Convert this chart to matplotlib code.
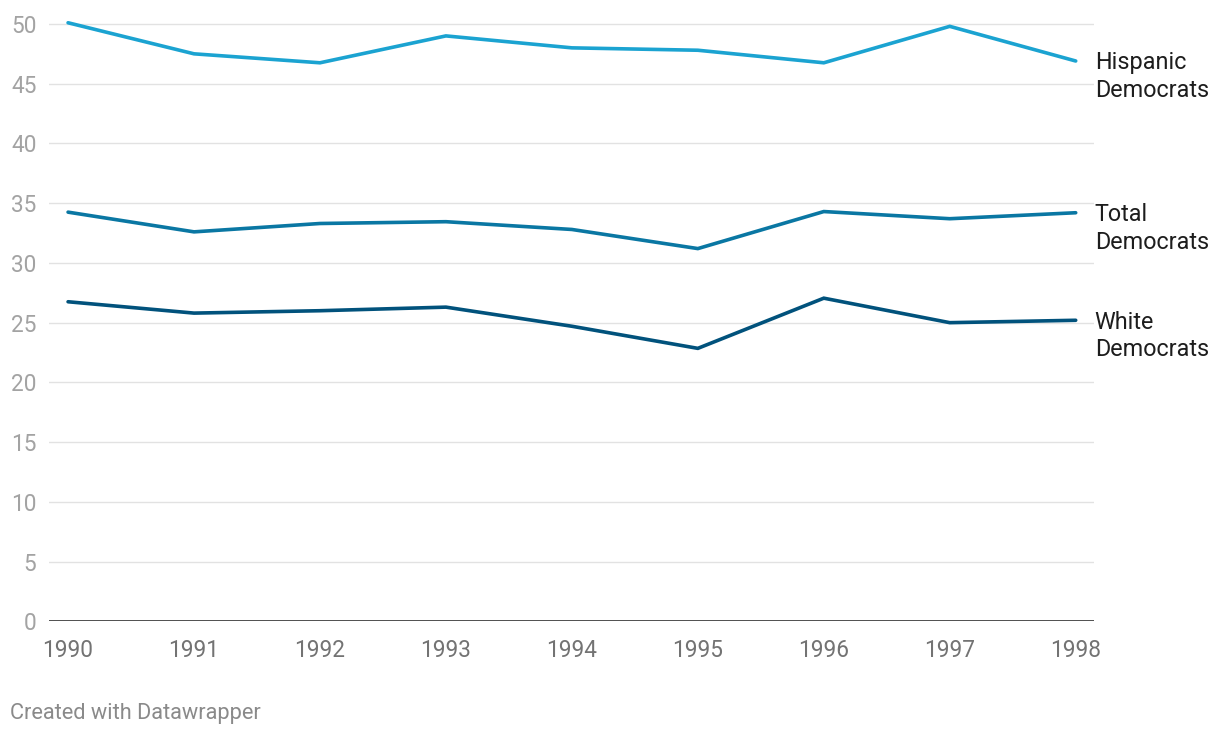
import numpy as np
import matplotlib
matplotlib.use("Agg")
import matplotlib.pyplot as plt

plt.rcParams["font.family"] = ["Roboto", "DejaVu Sans"]

years = [1990, 1991, 1992, 1993, 1994, 1995, 1996, 1997, 1998]
hispanic = [50.1, 47.5, 46.75, 49.0, 48.0, 47.8, 46.75, 49.8, 46.9]
total = [34.25, 32.6, 33.3, 33.45, 32.8, 31.2, 34.3, 33.7, 34.2]
white = [26.75, 25.8, 26.0, 26.3, 24.7, 22.85, 27.05, 25.0, 25.2]

series_names = ["Hispanic\nDemocrats", "Total\nDemocrats", "White\nDemocrats"]
series_vals = [hispanic, total, white]
series_cols = ["#1ba3d1", "#0a77a3", "#01527c"]

yticks = [0, 5, 10, 15, 20, 25, 30, 35, 40, 45, 50]

fig = plt.figure(figsize=(12.2, 7.4), dpi=100)
ax = fig.add_axes([0.0402, 0.1603, 0.8565, 0.8154])

for name, vals, col in zip(series_names, series_vals, series_cols):
    ax.plot(years, vals, color=col, lw=2.6, solid_capstyle="round",
            solid_joinstyle="miter", zorder=3, clip_on=False)
    l1, l2 = name.split("\n")
    ax.annotate(l1, xy=(years[-1], vals[-1]), xytext=(13.7, -6),
                textcoords="offset points", va="baseline", ha="left",
                fontsize=16.8, color="#1d1d1d", annotation_clip=False)
    ax.annotate(l2, xy=(years[-1], vals[-1]), xytext=(13.7, -26),
                textcoords="offset points", va="baseline", ha="left",
                fontsize=16.8, color="#1d1d1d", annotation_clip=False)

ax.set_xlim(1989.849, 1998.145)
ax.set_ylim(0, 50.5)
ax.set_yticks(yticks)
ax.set_xticks(years)
ax.set_xticklabels([str(y) for y in years])

for y in yticks[1:]:
    ax.axhline(y, color="#e2e2e2", lw=1.0, zorder=1)
ax.axhline(0, color="#1a1a1a", lw=1.8, zorder=4)

for s in ax.spines.values():
    s.set_visible(False)

ax.tick_params(axis="y", length=0, pad=9, labelsize=16.3, labelcolor="#a3a3a3")
ax.tick_params(axis="x", length=0, pad=13, labelsize=16.3, labelcolor="#737373")

fig.text(10 / 1220, 1 - 714 / 740, "Created with Datawrapper", fontsize=15.7,
         color="#8a8a8a", ha="left", va="center")

plt.savefig("out.png", dpi=100)
